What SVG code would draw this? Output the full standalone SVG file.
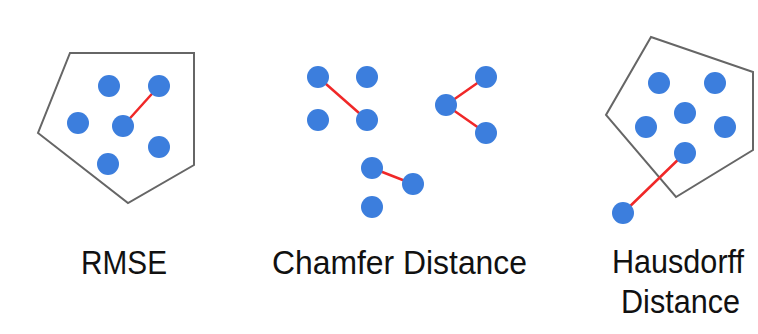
<svg xmlns="http://www.w3.org/2000/svg" width="758" height="334" viewBox="0 0 758 334">
<style>
.pt{fill:#3C7EDD}
.ln{stroke:#F02828;stroke-width:2.5;stroke-linecap:round}
.hull{fill:none;stroke:#666;stroke-width:2;stroke-linejoin:miter}
.lbl{font-family:"Liberation Sans",Arial,sans-serif;font-size:34px;fill:#111;text-anchor:middle}
</style>
<rect width="758" height="334" fill="#fff"/>
<g id="rmse">
<polygon class="hull" points="70,53 194,53 194,165 128,203 38,133"/>
<line class="ln" x1="123" y1="126" x2="159" y2="86"/>
<circle class="pt" cx="109" cy="86" r="11"/>
<circle class="pt" cx="159" cy="86" r="11"/>
<circle class="pt" cx="78" cy="123" r="11"/>
<circle class="pt" cx="123" cy="126" r="11"/>
<circle class="pt" cx="159" cy="147" r="11"/>
<circle class="pt" cx="108" cy="164" r="11"/>
<text class="lbl" x="124" y="274" textLength="86" lengthAdjust="spacingAndGlyphs">RMSE</text>
</g>
<g id="chamfer">
<line class="ln" x1="318" y1="77" x2="367" y2="120"/>
<line class="ln" x1="446" y1="105" x2="486" y2="77"/>
<line class="ln" x1="446" y1="105" x2="486" y2="133"/>
<line class="ln" x1="372" y1="168" x2="413" y2="184"/>
<circle class="pt" cx="318" cy="77" r="11"/>
<circle class="pt" cx="367" cy="77" r="11"/>
<circle class="pt" cx="318" cy="120" r="11"/>
<circle class="pt" cx="367" cy="120" r="11"/>
<circle class="pt" cx="446" cy="105" r="11"/>
<circle class="pt" cx="486" cy="77" r="11"/>
<circle class="pt" cx="486" cy="133" r="11"/>
<circle class="pt" cx="372" cy="168" r="11"/>
<circle class="pt" cx="413" cy="184" r="11"/>
<circle class="pt" cx="372" cy="207" r="11"/>
<text class="lbl" x="399.5" y="274" textLength="255" lengthAdjust="spacingAndGlyphs">Chamfer Distance</text>
</g>
<g id="hausdorff">
<polygon class="hull" points="651,37 753,72 753,150 676,197 606,115"/>
<line class="ln" x1="685" y1="153" x2="623" y2="213"/>
<circle class="pt" cx="659" cy="83" r="11"/>
<circle class="pt" cx="715" cy="83" r="11"/>
<circle class="pt" cx="685" cy="113" r="11"/>
<circle class="pt" cx="646" cy="127" r="11"/>
<circle class="pt" cx="725" cy="127" r="11"/>
<circle class="pt" cx="685" cy="153" r="11"/>
<circle class="pt" cx="623" cy="213" r="11"/>
<text class="lbl" x="678" y="273" textLength="132" lengthAdjust="spacingAndGlyphs">Hausdorff</text>
<text class="lbl" x="680.5" y="313" textLength="119" lengthAdjust="spacingAndGlyphs">Distance</text>
</g>
</svg>
